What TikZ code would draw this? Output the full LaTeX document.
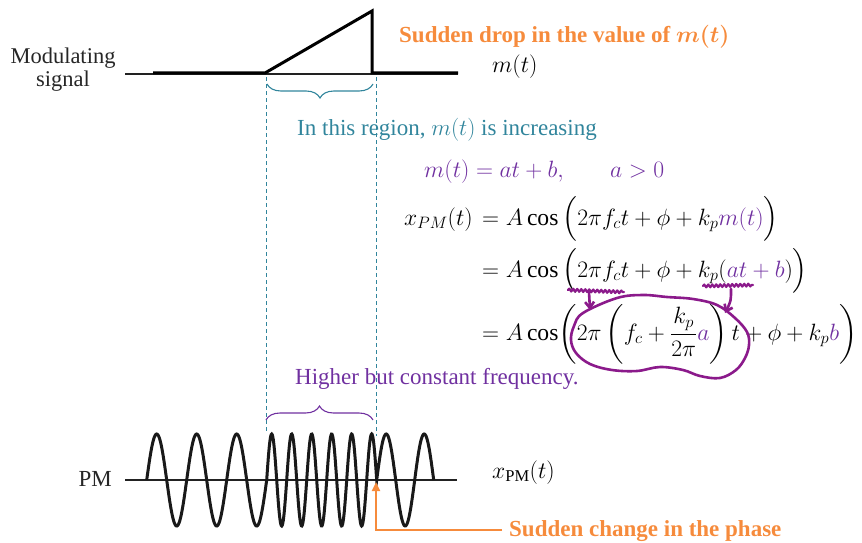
\RequirePackage{fix-cm}
\documentclass[tikz,border=0pt]{standalone}
\usepackage{fontspec}
\setmainfont{Liberation Serif}
\usepackage{amsmath,bm}
\usetikzlibrary{decorations.pathreplacing,decorations.pathmorphing,arrows.meta}
\definecolor{tealc}{HTML}{31859C}
\definecolor{purpT}{HTML}{7030A0}
\definecolor{handP}{HTML}{8B1A8B}
\definecolor{orangeC}{HTML}{F68B3C}
\definecolor{darkline}{HTML}{222222}
\tikzset{
  txt/.style={inner sep=0pt, font=\fontsize{23}{26}\selectfont},
  mth/.style={inner sep=0pt, font=\fontsize{23.6}{27}\selectfont},
  otxt/.style={inner sep=0pt, text=orangeC, font=\fontsize{23}{26}\selectfont\bfseries},
  axisline/.style={draw=darkline, line width=2pt},
  sigline/.style={draw=black, line width=3pt, line join=miter},
  waveline/.style={draw=black!90, line width=3pt},
  guide/.style={draw=tealc, dashed, dash pattern=on 4pt off 3pt, line width=1pt},
  bracestyle/.style={line width=1.1pt, decorate, decoration={brace, amplitude=14pt}},
  hand/.style={draw=handP, line width=2.6pt, line cap=round, line join=round},
  squiggle/.style={hand, line width=2.2pt, decorate, decoration={snake, amplitude=1.4pt, segment length=4pt}},
}
\begin{document}
\begin{tikzpicture}[x=1pt,y=-1pt]
\useasboundingbox (0,0) rectangle (862,543);

% ---- modulating signal ----
\node[txt, align=center, text=black!85, font=\fontsize{22.5}{26}\selectfont] (modlab) at (63,70) {Modulating\\[-3pt]signal};
\coordinate (ax1a) at (125,74);
\coordinate (ax1b) at (458,74);
\draw[axisline] (ax1a) -- (ax1b);
\coordinate (s0) at (153,73);
\coordinate (s1) at (265,73);
\coordinate (s2) at (372,11);
\coordinate (s3) at (372,73);
\coordinate (s4) at (458,73);
\draw[sigline] (s0) -- (s1) -- (s2) -- (s3) -- (s4);
\node[mth, anchor=base west] (mt) at (492,73) {$m(t)$};
\node[otxt, anchor=base west] (drop) at (399,43) {Sudden drop in the value of $\bm{m(t)}$};

% ---- guides ----
\coordinate (g1a) at (266,77);
\coordinate (g1b) at (266,433);
\coordinate (g2a) at (376,77);
\coordinate (g2b) at (376,436);
\draw[guide] (g1a) -- (g1b);
\draw[guide] (g2a) -- (g2b);

% teal brace
\coordinate (tb1) at (373,84);
\coordinate (tb2) at (267,84);
\draw[bracestyle, tealc] (tb1) -- (tb2);
\node[txt, text=tealc, anchor=base west] (region) at (297,135) {In this region, $m(t)$ is increasing};

% ---- equations ----
\node[mth, text=purpT, anchor=base west] (mdef) at (424,177) {$m(t)=at+b,$};
\node[mth, text=purpT, anchor=base west] (apos) at (610,177) {$a>0$};

\node[mth, anchor=base east] (xpm) at (473,225) {$x_{PM}(t)$};
\node[mth, anchor=base west] (l1) at (482,225) {$=A\cos\Big(2\pi f_c t+\phi+k_p\textcolor{purpT}{m(t)}\Big)$};
\node[mth, anchor=base west] (l2) at (482,277) {$=A\cos\Big(2\pi f_c t+\phi+k_p(\textcolor{purpT}{at+b})\Big)$};
\node[mth, anchor=base west] (l3) at (482,340) {$=A\cos\biggl(2\pi\left(f_c+\dfrac{k_p}{2\pi}\textcolor{purpT}{a}\right)t+\phi+k_p\textcolor{purpT}{b}\biggr)$};

% ---- hand annotations ----
\coordinate (q1a) at (568,290);
\coordinate (q1b) at (624,292);
\draw[squiggle] (q1a) -- (q1b);
\coordinate (q1m) at (589,292);
\coordinate (q1t) at (590,310);
\draw[hand, -{Straight Barb[length=6pt,width=9pt]}] (q1m) -- (q1t);
\coordinate (q2a) at (703,286);
\coordinate (q2b) at (753,285);
\draw[squiggle] (q2a) -- (q2b);
\coordinate (q2m) at (731,289);
\coordinate (q2t) at (725,313);
\draw[hand, -{Straight Barb[length=6pt,width=9pt]}] (q2m) .. controls (731,301) .. (q2t);
\draw[hand] plot[smooth cycle, tension=0.6] coordinates {
 (583,313) (617,298) (643,295) (667,297) (693,299) (717,305) (735,318)
 (747,332) (749,345) (745,358) (736,370) (720,378) (700,376) (683,370)
 (660,367) (637,371) (612,370) (590,364) (576,353) (571,340) (574,326)};

% ---- PM signal ----
\node[txt, text=purpT, anchor=base west] (higher) at (295,384) {Higher but constant frequency.};
\coordinate (pb1) at (266,420);
\coordinate (pb2) at (373,420);
\draw[bracestyle, purpT] (pb1) -- (pb2);

\node[txt, text=black!85, anchor=base east] (pmlab) at (112,486) {PM};
\coordinate (ax2a) at (125,480);
\coordinate (ax2b) at (457,480);
\draw[axisline] (ax2a) -- (ax2b);
\draw[waveline]
  plot[domain=146.7:266.7, samples=160] (\x,{480-46*sin(9*(\x-146.7))})
  -- plot[domain=266.7:376.7, samples=220] (\x,{480-46*sin(18*(\x-266.7))})
  -- plot[domain=376.7:433.7, samples=90] (\x,{480-46*sin(9.4737*(\x-376.7))});
\node[mth, anchor=base west] (xpmlab) at (492,478) {$x_{\mathrm{PM}}(t)$};

% ---- phase arrow ----
\node[otxt, anchor=base west] (chg) at (509,536) {Sudden change in the phase};
\coordinate (arrs) at (502,530);
\coordinate (arrt) at (376,482);
\draw[orangeC, line width=2.2pt, -{Triangle[length=9pt,width=8pt]}] (arrs) -| (arrt);
\end{tikzpicture}
\end{document}
